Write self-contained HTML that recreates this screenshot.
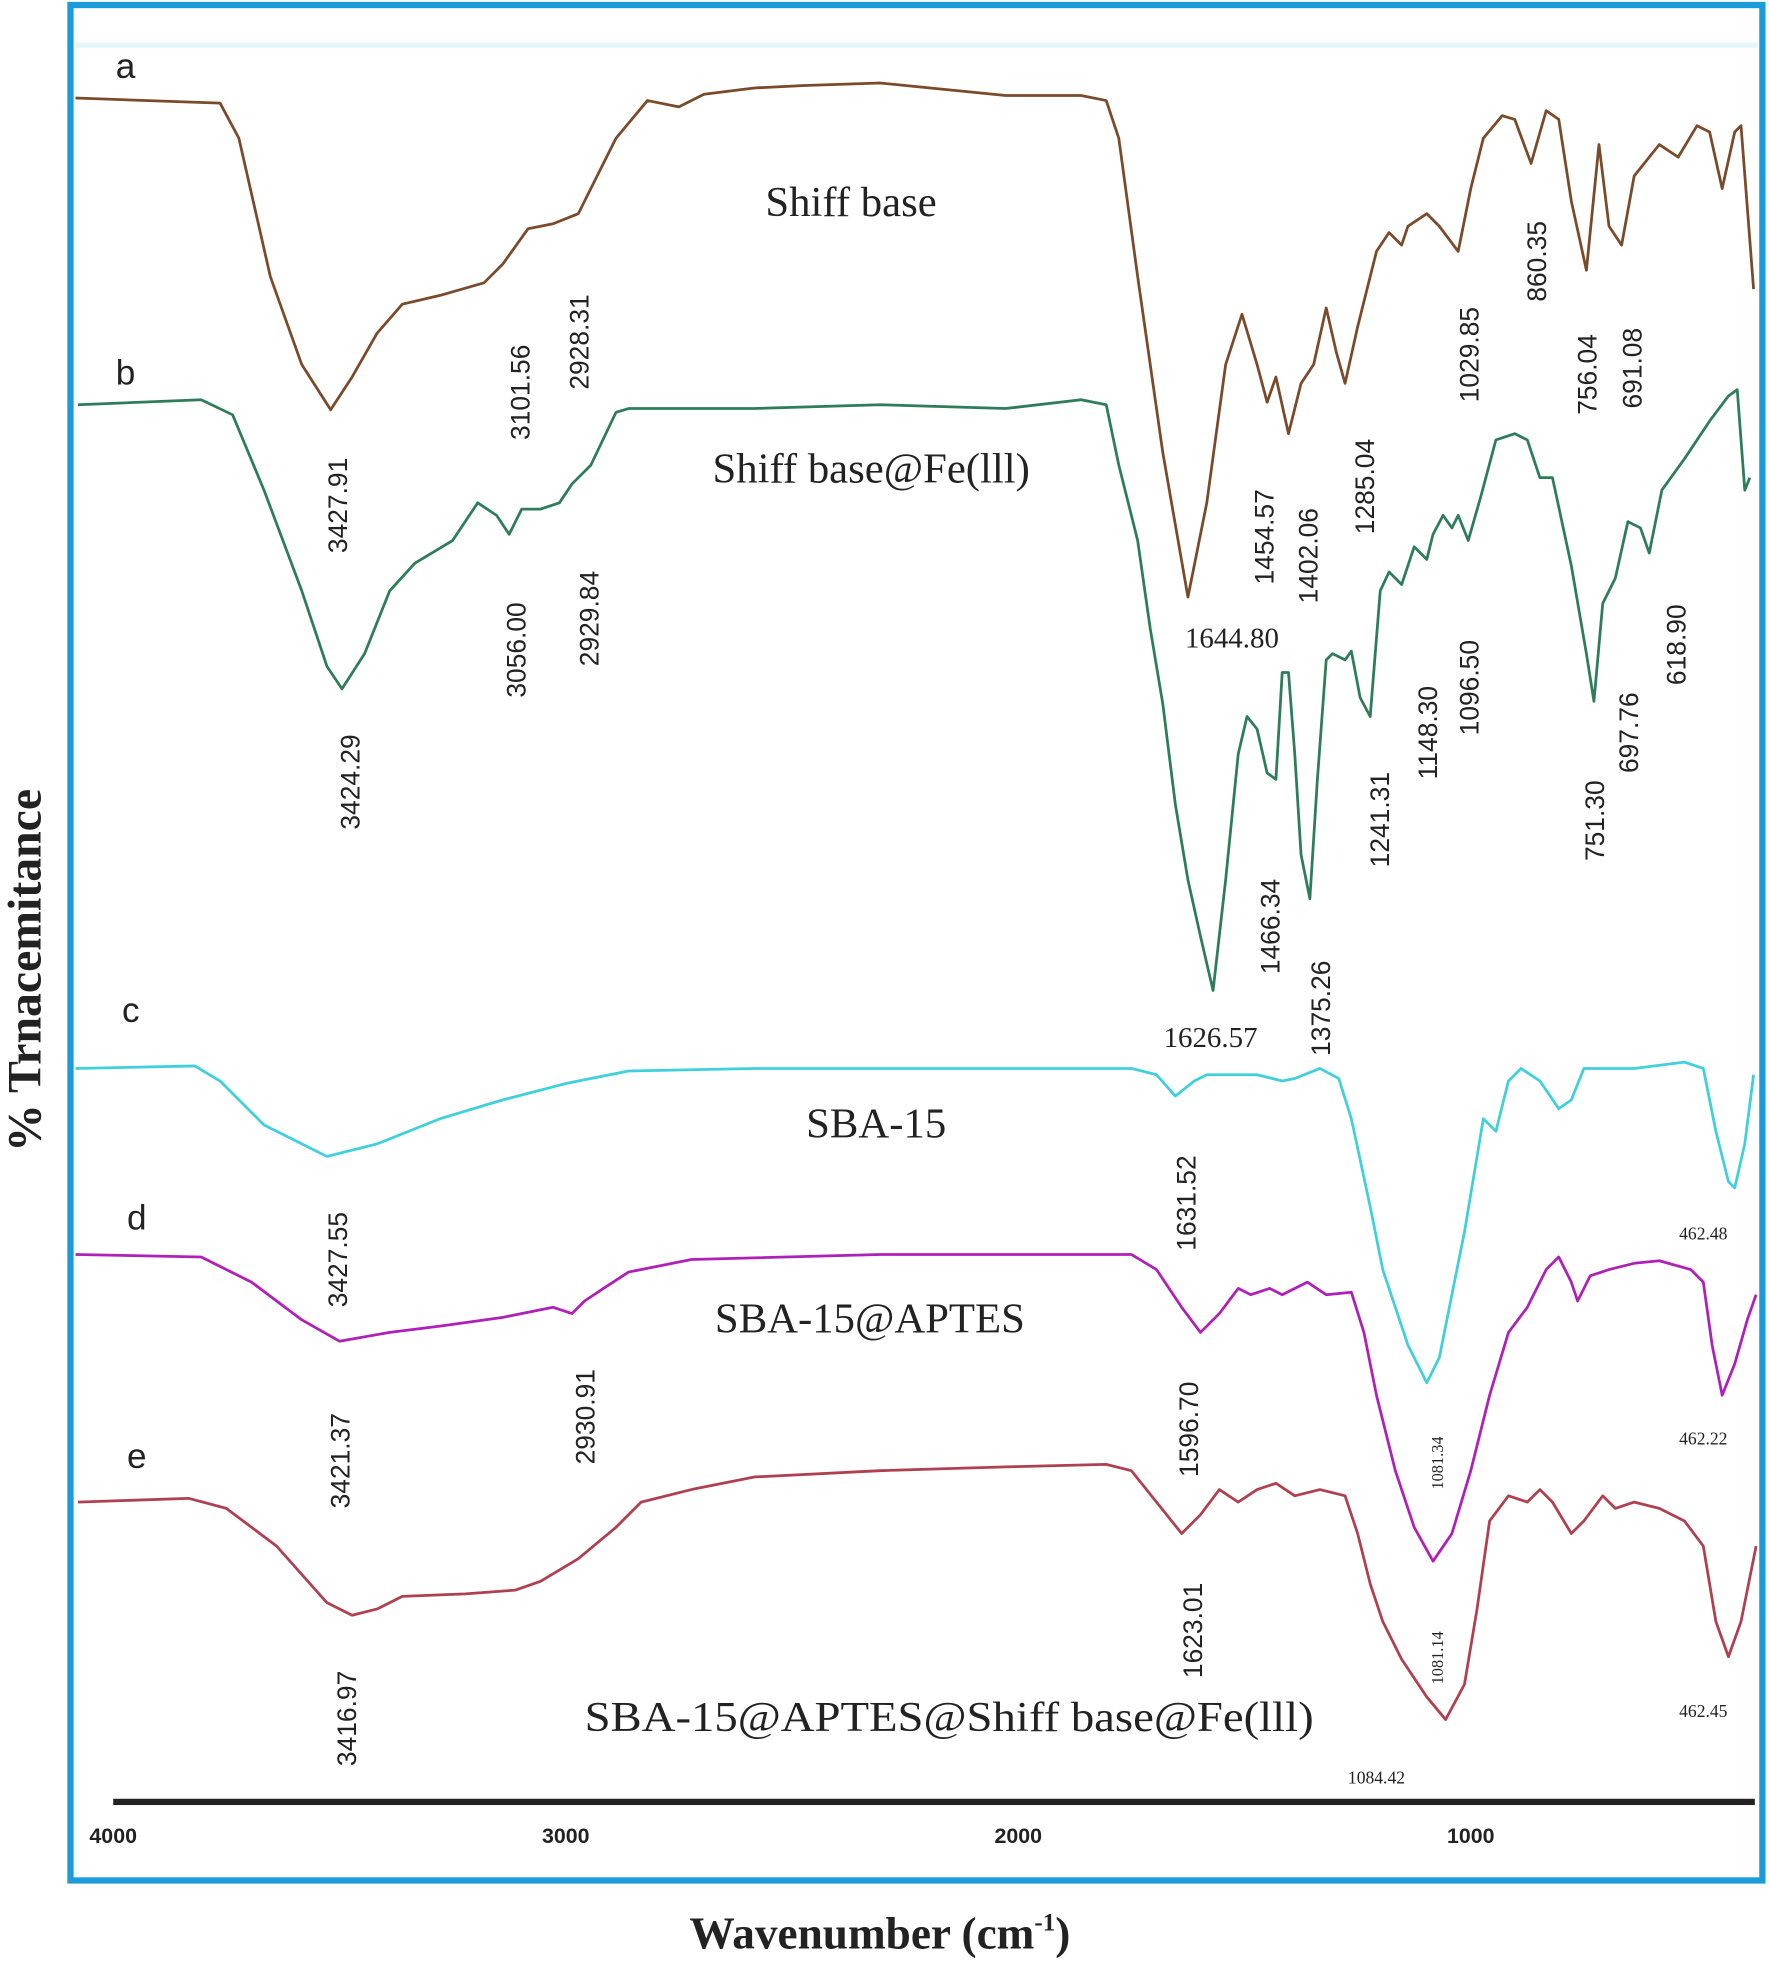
<!DOCTYPE html>
<html><head><meta charset="utf-8"><style>
html,body{margin:0;padding:0;background:#fff}
svg{display:block}
.t{font-family:"Liberation Serif",serif;fill:#222}
.s{font-family:"Liberation Sans",sans-serif;fill:#222}
.r{font-family:"Liberation Sans",sans-serif;font-size:21px;fill:#222}
</style></head><body>
<svg width="1770" height="1976" viewBox="0 0 1408 1572" xmlns="http://www.w3.org/2000/svg">
<rect x="0" y="0" width="1408" height="1572" fill="#fff"/>
<rect x="56" y="4" width="1346" height="1492" fill="none" stroke="#1b9bd7" stroke-width="5"/>
<line x1="60" y1="36" x2="1398" y2="36" stroke="#e4f6f8" stroke-width="4"/>
<rect x="90" y="1431" width="1306" height="5" fill="#222"/>
<g class="s" font-size="17" font-weight="bold" text-anchor="middle">
<text x="90" y="1466">4000</text><text x="450" y="1466">3000</text><text x="810" y="1466">2000</text><text x="1170" y="1466">1000</text>
</g>
<text class="t" x="700" y="1550" font-size="36" font-weight="bold" text-anchor="middle">Wavenumber (cm<tspan font-size="20" dy="-14">-1</tspan><tspan dy="14">)</tspan></text>
<text class="t" transform="translate(32,772) rotate(-90)" font-size="38" font-weight="bold" text-anchor="middle">% Trnacemitance</text>

<g fill="none" stroke-width="2.2" stroke-linejoin="round">
<polyline stroke="#7a4a2a" points="60,78 175,82 190,110 215,220 240,290 263,326 280,300 300,265 320,242 350,235 385,225 400,210 420,182 440,178 460,170 470,150 490,110 515,80 540,85 560,75 600,70 640,68 700,66 760,72 800,76 860,76 880,80 890,110 905,220 925,360 945,475 960,400 975,290 988,250 1000,290 1008,320 1015,300 1025,345 1035,305 1045,290 1055,245 1063,280 1070,305 1080,260 1095,200 1105,185 1115,195 1120,180 1135,170 1145,180 1160,200 1170,150 1180,110 1195,92 1205,95 1218,130 1230,88 1240,95 1250,160 1262,215 1272,115 1280,180 1290,195 1300,140 1320,115 1335,125 1350,100 1360,105 1370,150 1380,105 1385,100 1395,230"/>
<polyline stroke="#2e7d5a" points="62,322 160,318 185,330 210,390 240,470 260,530 272,548 290,520 310,470 330,448 360,430 380,400 395,410 405,425 415,405 430,405 445,400 455,385 470,370 490,328 500,325 600,325 700,322 800,325 860,318 880,322 890,370 905,430 915,500 925,560 935,640 945,700 955,745 965,788 975,700 985,600 992,570 1000,580 1008,615 1015,620 1020,535 1025,535 1030,600 1035,680 1042,715 1048,620 1055,525 1060,520 1070,525 1075,518 1082,555 1090,570 1098,470 1105,455 1115,465 1125,435 1135,445 1140,425 1148,410 1155,420 1160,410 1168,430 1178,395 1190,350 1205,345 1215,350 1225,380 1235,380 1250,450 1262,520 1268,558 1275,480 1285,460 1295,415 1305,420 1312,440 1322,390 1340,365 1360,335 1375,315 1382,310 1388,390 1392,380"/>
<polyline stroke="#3fd0dc" points="60,850 155,848 175,860 210,895 260,920 300,910 350,890 400,875 450,862 500,852 600,850 800,850 900,850 920,855 935,872 950,860 960,855 1000,855 1020,860 1030,858 1050,850 1065,858 1075,890 1090,960 1100,1010 1120,1070 1135,1100 1145,1080 1155,1030 1165,980 1175,920 1180,890 1190,900 1200,860 1210,850 1225,860 1240,882 1250,875 1260,850 1300,850 1340,845 1355,850 1365,900 1375,940 1380,945 1388,910 1395,855"/>
<polyline stroke="#b020b8" points="60,998 160,1000 200,1020 240,1050 270,1067 310,1060 350,1055 400,1048 440,1040 455,1045 465,1035 480,1025 500,1012 550,1002 700,998 900,998 920,1010 940,1040 955,1060 970,1045 985,1025 995,1030 1010,1025 1020,1030 1040,1020 1055,1030 1075,1028 1085,1060 1095,1110 1110,1170 1125,1215 1140,1242 1155,1220 1170,1170 1185,1110 1200,1060 1215,1040 1230,1010 1240,1000 1250,1020 1255,1035 1265,1015 1280,1010 1300,1005 1320,1003 1345,1010 1355,1020 1362,1070 1370,1110 1380,1085 1390,1050 1397,1030"/>
<polyline stroke="#b04050" points="62,1195 150,1192 180,1200 220,1230 260,1275 280,1285 300,1280 320,1270 370,1268 410,1265 430,1258 460,1240 490,1215 510,1195 550,1185 600,1175 700,1170 800,1167 880,1165 900,1170 920,1195 940,1220 955,1205 970,1185 985,1195 1000,1185 1015,1180 1030,1190 1050,1185 1070,1190 1080,1220 1090,1260 1100,1290 1115,1320 1135,1350 1150,1368 1165,1340 1175,1280 1185,1210 1200,1190 1215,1195 1225,1185 1235,1195 1250,1220 1260,1210 1275,1190 1285,1200 1300,1195 1320,1200 1340,1210 1355,1230 1365,1290 1375,1318 1385,1290 1397,1230"/>
</g>

<g class="s" font-size="28">
<text x="92" y="62">a</text><text x="92" y="306">b</text><text x="97" y="813">c</text><text x="101" y="978">d</text><text x="101" y="1168">e</text>
</g>
<g class="t" font-size="34" text-anchor="middle">
<text x="677" y="172">Shiff base</text>
<text x="693" y="384">Shiff base@Fe(lll)</text>
<text x="697" y="905">SBA-15</text>
<text x="692" y="1060">SBA-15@APTES</text>
<text x="755" y="1377" textLength="580" lengthAdjust="spacingAndGlyphs">SBA-15@APTES@Shiff base@Fe(lll)</text>
</g>
<g class="t" font-size="23" text-anchor="middle">
<text x="980" y="515">1644.80</text>
<text x="963" y="833">1626.57</text>
</g>
<g class="t" font-size="14" text-anchor="middle">
<text x="1355" y="986">462.48</text>
<text x="1355" y="1149">462.22</text>
<text x="1355" y="1366">462.45</text>
<text x="1095" y="1419">1084.42</text>
</g>
<g class="r">
<text transform="translate(276,440) rotate(-90)">3427.91</text>
<text transform="translate(421,350) rotate(-90)">3101.56</text>
<text transform="translate(468,310) rotate(-90)">2928.31</text>
<text transform="translate(1013,465) rotate(-90)">1454.57</text>
<text transform="translate(1048,480) rotate(-90)">1402.06</text>
<text transform="translate(1093,425) rotate(-90)">1285.04</text>
<text transform="translate(1176,320) rotate(-90)">1029.85</text>
<text transform="translate(1230,240) rotate(-90)">860.35</text>
<text transform="translate(1270,330) rotate(-90)">756.04</text>
<text transform="translate(1306,325) rotate(-90)">691.08</text>
<text transform="translate(286,660) rotate(-90)">3424.29</text>
<text transform="translate(418,555) rotate(-90)">3056.00</text>
<text transform="translate(476,530) rotate(-90)">2929.84</text>
<text transform="translate(1018,775) rotate(-90)">1466.34</text>
<text transform="translate(1058,840) rotate(-90)">1375.26</text>
<text transform="translate(1105,690) rotate(-90)">1241.31</text>
<text transform="translate(1143,620) rotate(-90)">1148.30</text>
<text transform="translate(1176,585) rotate(-90)">1096.50</text>
<text transform="translate(1276,685) rotate(-90)">751.30</text>
<text transform="translate(1303,615) rotate(-90)">697.76</text>
<text transform="translate(1341,545) rotate(-90)">618.90</text>
<text transform="translate(276,1040) rotate(-90)">3427.55</text>
<text transform="translate(951,995) rotate(-90)">1631.52</text>
<text transform="translate(278,1200) rotate(-90)">3421.37</text>
<text transform="translate(473,1165) rotate(-90)">2930.91</text>
<text transform="translate(953,1175) rotate(-90)">1596.70</text>
<text transform="translate(283,1405) rotate(-90)">3416.97</text>
<text transform="translate(956,1335) rotate(-90)">1623.01</text>
<text transform="translate(1148,1185) rotate(-90)" font-size="13" font-family="Liberation Serif">1081.34</text>
<text transform="translate(1148,1340) rotate(-90)" font-size="13" font-family="Liberation Serif">1081.14</text>
</g>
</svg>
</body></html>
